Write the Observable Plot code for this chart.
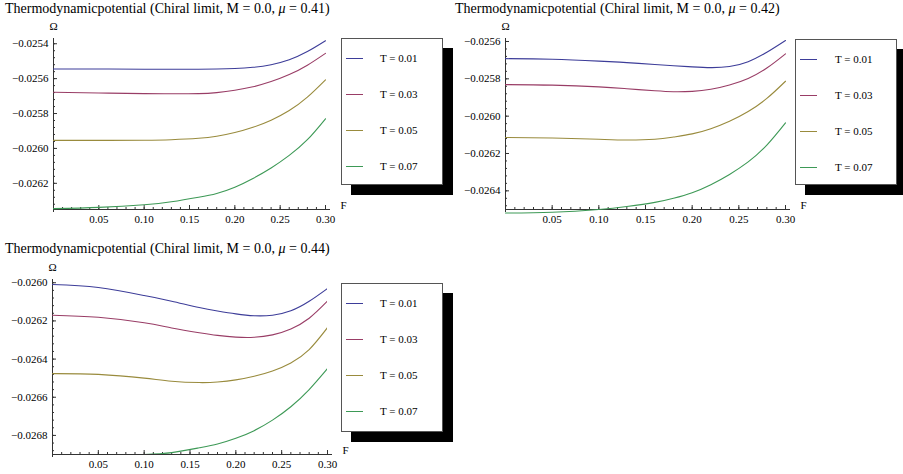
<!DOCTYPE html>
<html>
<head>
<meta charset="utf-8">
<script src="https://cdn.jsdelivr.net/npm/d3@7"></script>
<script src="https://cdn.jsdelivr.net/npm/@observablehq/plot@0.6"></script>
<style>
html, body { margin: 0; padding: 0; background: #fff; overflow: hidden; }
#root { position: relative; width: 903px; height: 474px; overflow: hidden; font-family: "Liberation Serif", "Times New Roman", serif; color: #000; }
.title { position: absolute; font-size: 14px; line-height: 16px; white-space: nowrap; }
.panel { position: absolute; }
.panel svg text { font-family: "Liberation Serif", serif; }
.legend { position: absolute; background: #fff; border: 1px solid #555; box-sizing: border-box; box-shadow: 10px 10px 0 #000; }
.swatch { position: absolute; width: 17px; height: 0; border-top: 1.2px solid; }
.entry { position: absolute; font-size: 11px; line-height: 12px; white-space: nowrap; font-family: "Liberation Serif", serif; }
</style>
</head>
<body>
<div id="root"></div>
<script>
// ---- data ----
const T = [0.01, 0.03, 0.05, 0.07];
const colors = ["#3d3d99", "#993d66", "#998b3d", "#3d9956"];
const F = [0, 0.05, 0.10, 0.13, 0.16, 0.18, 0.20, 0.22, 0.24, 0.26, 0.28, 0.30];

// mu = 0.41
const omega041_T001 = [-0.025545, -0.025545, -0.025546, -0.025546, -0.025546, -0.025545, -0.025542, -0.025535, -0.025520, -0.025492, -0.025445, -0.025383];
const omega041_T003 = [-0.025678, -0.025682, -0.025686, -0.025687, -0.025686, -0.025680, -0.025667, -0.025647, -0.025617, -0.025577, -0.025523, -0.025455];
const omega041_T005 = [-0.025954, -0.025954, -0.025953, -0.025950, -0.025942, -0.025930, -0.025909, -0.025879, -0.025838, -0.025783, -0.025706, -0.025607];
const omega041_T007 = [-0.026345, -0.026338, -0.026323, -0.026306, -0.026280, -0.026258, -0.026222, -0.026172, -0.026112, -0.026040, -0.025950, -0.025830];

// mu = 0.42
const omega042_T001 = [-0.025692, -0.025695, -0.025705, -0.025713, -0.025723, -0.025730, -0.025736, -0.025740, -0.025734, -0.025708, -0.025658, -0.025595];
const omega042_T003 = [-0.025831, -0.025834, -0.025843, -0.025853, -0.025864, -0.025869, -0.025867, -0.025856, -0.025833, -0.025798, -0.025742, -0.025666];
const omega042_T005 = [-0.026114, -0.026117, -0.026124, -0.026128, -0.026124, -0.026112, -0.026095, -0.026067, -0.026027, -0.025975, -0.025905, -0.025813];
const omega042_T007 = [-0.026519, -0.026515, -0.026500, -0.026484, -0.026462, -0.026440, -0.026410, -0.026367, -0.026312, -0.026245, -0.026155, -0.026036];

// mu = 0.44
const omega044_T001 = [-0.026009, -0.026025, -0.026067, -0.026097, -0.026130, -0.026148, -0.026163, -0.026173, -0.026170, -0.026147, -0.026097, -0.026030];
const omega044_T003 = [-0.026170, -0.026181, -0.026210, -0.026237, -0.026262, -0.026276, -0.026285, -0.026286, -0.026273, -0.026242, -0.026186, -0.026096];
const omega044_T005 = [-0.026476, -0.026480, -0.026500, -0.026516, -0.026523, -0.026520, -0.026509, -0.026490, -0.026462, -0.026420, -0.026350, -0.026235];
const omega044_T007 = [-0.026908, -0.026906, -0.026900, -0.026890, -0.026865, -0.026845, -0.026815, -0.026775, -0.026720, -0.026650, -0.026560, -0.026450];

// tick labels
const xTicks = [0.05, 0.10, 0.15, 0.20, 0.25, 0.30];
const yTicks041 = [-0.0254, -0.0256, -0.0258, -0.0260, -0.0262];
const yTicks042 = [-0.0256, -0.0258, -0.0260, -0.0262, -0.0264];
const yTicks044 = [-0.0260, -0.0262, -0.0264, -0.0266, -0.0268];

const mus = [0.41, 0.42, 0.44];
const yDomains = [[-0.02635, -0.02537], [-0.0265, -0.025584], [-0.0269, -0.025983]];

// ---- layout ----
const panels = [
  {mu: mus[0], series: [omega041_T001, omega041_T003, omega041_T005, omega041_T007], yTicks: yTicks041, yDomain: yDomains[0],
   left: 0, top: 0, width: 360, height: 232, ml: 53, mr: 35, mt: 38, mb: 23, clip: false,
   titleLeft: 5, titleTop: 1, legend: {left: 341, top: 38, width: 102, height: 147, line: 5, text: 39}},
  {mu: mus[1], series: [omega042_T001, omega042_T003, omega042_T005, omega042_T007], yTicks: yTicks042, yDomain: yDomains[1],
   left: 450, top: 0, width: 360, height: 232, ml: 55, mr: 25, mt: 38, mb: 23, clip: false,
   titleLeft: 455, titleTop: 1, legend: {left: 795, top: 39, width: 102, height: 146, line: 5, text: 40}},
  {mu: mus[2], series: [omega044_T001, omega044_T003, omega044_T005, omega044_T007], yTicks: yTicks044, yDomain: yDomains[2],
   left: 0, top: 240, width: 360, height: 234, ml: 52, mr: 33, mt: 39, mb: 20, clip: true,
   titleLeft: 5, titleTop: 241, legend: {left: 341, top: 283, width: 102, height: 149, line: 5, text: 39}}
];

const labels = T.map(t => `T = ${t.toFixed(2)}`);
const root = document.getElementById("root");
const serif = "Liberation Serif, serif";

function minorTicks(lo, hi, step) {
  const out = [];
  const n0 = Math.ceil(lo / step - 1e-9), n1 = Math.floor(hi / step + 1e-9);
  for (let n = n0; n <= n1; n++) out.push(+(n * step).toFixed(8));
  return out;
}

for (const p of panels) {
  const data = [];
  p.series.forEach((vals, i) => vals.forEach((v, j) => data.push({F: F[j], omega: v, T: labels[i]})));
  const fw = p.width - p.ml - p.mr;
  const fh = p.height - p.mt - p.mb;
  const [y0, y1] = p.yDomain;
  const xExt = 0.30 + 5 * 0.30 / fw;
  const xMinor = minorTicks(0.01, 0.30, 0.01);
  const yMinor = minorTicks(y0, y1, 0.00004);

  const chart = Plot.plot({
    width: p.width,
    height: p.height,
    marginLeft: p.ml, marginRight: p.mr, marginTop: p.mt, marginBottom: p.mb,
    style: {fontFamily: serif, fontSize: "11px", overflow: "visible", background: "transparent", color: "#000"},
    x: {domain: [0, 0.30], label: null},
    y: {domain: p.yDomain, label: null},
    color: {domain: labels, range: colors},
    marks: [
      Plot.ruleX([0], {stroke: "#333", strokeWidth: 1, insetBottom: -3}),
      Plot.ruleY([{y: y0, x1: 0, x2: xExt}], {y: "y", x1: "x1", x2: "x2", stroke: "#333", strokeWidth: 1}),
      Plot.tickX(xMinor, {stroke: "#333", insetTop: fh - 2}),
      Plot.tickX(xTicks, {stroke: "#333", insetTop: fh - 4}),
      Plot.tickY(yMinor, {stroke: "#333", insetRight: fw - 2}),
      Plot.tickY(p.yTicks, {stroke: "#333", insetRight: fw - 4}),
      Plot.axisX({ticks: xTicks, tickSize: 0, tickPadding: 6, tickFormat: d3.format(".2f"), label: null, fontFamily: serif, fontSize: 11}),
      Plot.axisY({ticks: p.yTicks, tickSize: 0, tickPadding: 5, tickFormat: d3.format(".4f"), label: null, fontFamily: serif, fontSize: 11}),
      Plot.line(data, {x: "F", y: "omega", z: "T", stroke: "T", strokeWidth: 1.1, curve: "natural", clip: p.clip}),
      Plot.text(["Ω"], {frameAnchor: "top-left", text: d => d, textAnchor: "middle", dy: -16, fontSize: 11, fontFamily: serif, fill: "#000"}),
      Plot.text(["F"], {frameAnchor: "bottom-right", text: d => d, textAnchor: "middle", dx: 18, dy: -1, fontSize: 11, fontFamily: serif, fill: "#000"})
    ]
  });
  const holder = document.createElement("div");
  holder.className = "panel";
  holder.style.left = p.left + "px";
  holder.style.top = p.top + "px";
  holder.appendChild(chart);
  root.appendChild(holder);

  const title = document.createElement("div");
  title.className = "title";
  title.style.left = p.titleLeft + "px";
  title.style.top = p.titleTop + "px";
  title.innerHTML = `Thermodynamicpotential (Chiral limit, M = 0.0, <i>μ</i> = ${p.mu.toFixed(2)})`;
  root.appendChild(title);

  const lg = document.createElement("div");
  lg.className = "legend";
  Object.assign(lg.style, {left: p.legend.left + "px", top: p.legend.top + "px", width: p.legend.width + "px", height: p.legend.height + "px"});
  labels.forEach((lab, i) => {
    const cy = 20 + i * 36;
    const sw = document.createElement("div");
    sw.className = "swatch";
    sw.style.left = (p.legend.line - 1) + "px";
    sw.style.top = (cy - 1) + "px";
    sw.style.borderTopColor = colors[i];
    lg.appendChild(sw);
    const tx = document.createElement("div");
    tx.className = "entry";
    tx.style.left = (p.legend.text - 1) + "px";
    tx.style.top = (cy - 7) + "px";
    tx.textContent = lab;
    lg.appendChild(tx);
  });
  root.appendChild(lg);
}
</script>
</body>
</html>
